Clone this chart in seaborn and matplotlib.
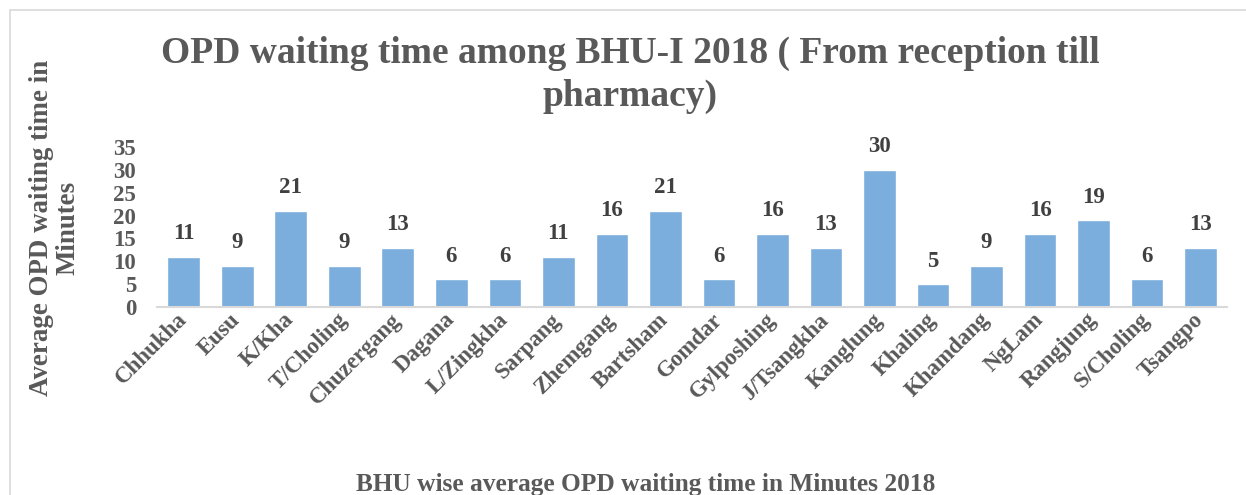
import pandas as pd
import seaborn as sns
import matplotlib.pyplot as plt
from matplotlib.patches import Rectangle

bhus = ["Chhukha", "Eusu", "K/Kha", "T/Choling", "Chuzergang", "Dagana", "L/Zingkha",
        "Sarpang", "Zhemgang", "Bartsham", "Gomdar", "Gylposhing", "J/Tsangkha",
        "Kanglung", "Khaling", "Khamdang", "NgLam", "Rangjung", "S/Choling", "Tsangpo"]
wait_minutes = [11, 9, 21, 9, 13, 6, 6, 11, 16, 21, 6, 16, 13, 30, 5, 9, 16, 19, 6, 13]
y_ticks = [0, 5, 10, 15, 20, 25, 30, 35]

title = "OPD waiting time among BHU-I 2018 ( From reception till\npharmacy)"
y_label = "Average OPD waiting time in\nMinutes"
x_label = "BHU wise average OPD waiting time in Minutes 2018"

sns.set_theme(style="white")
plt.rcParams['font.family'] = ['Liberation Serif', 'DejaVu Serif']
plt.rcParams['font.weight'] = 'bold'

text_grey = '#595959'
bar_blue = '#7BAEDD'

data = pd.DataFrame({"bhu": bhus, "minutes": wait_minutes})

fig = plt.figure(figsize=(12.46, 4.95), dpi=100)
ax = fig.add_axes([0.126, 0.380, 0.859, 0.323])

sns.barplot(data=data, x="bhu", y="minutes", color=bar_blue, width=0.61,
            saturation=1, ax=ax)

ax.set_ylim(0, 35)
ax.set_xlim(-0.5, len(bhus) - 0.5)
ax.set_yticks(y_ticks)
ax.tick_params(axis='y', length=0, pad=15, labelsize=16.5, labelcolor=text_grey)
ax.tick_params(axis='x', length=0, pad=7, labelsize=16.5, labelcolor=text_grey)
for lbl in ax.get_yticklabels():
    lbl.set_fontweight('bold')
ax.set_xticks(range(len(bhus)))
ax.set_xticklabels(bhus, rotation=45, ha='right', va='center',
                   rotation_mode='anchor', fontweight='bold')
ax.set_xlabel("")
ax.set_ylabel("")

for side in ['top', 'right', 'left']:
    ax.spines[side].set_visible(False)
ax.spines['bottom'].set_color('#d9d9d9')
ax.spines['bottom'].set_linewidth(1.5)
ax.grid(False)

ax.bar_label(ax.containers[0], labels=[str(v) for v in wait_minutes], padding=9,
             fontsize=16.5, fontweight='bold', color='#404040')

fig.text(0.506, 0.849, title, ha='center', va='center', fontsize=27,
         fontweight='bold', color=text_grey, linespacing=1.3)
fig.text(0.044, 0.539, y_label, ha='center', va='center', rotation=90,
         fontsize=19.4, fontweight='bold', color=text_grey, linespacing=1.1)
fig.text(0.518, 0.022, x_label, ha='center', va='center', fontsize=18.3,
         fontweight='bold', color=text_grey)

# chart area border, as in the spreadsheet export
fig.patches.append(Rectangle((10 / 1246, -0.1), 1.2, (495 - 10) / 495 + 0.1,
                             transform=fig.transFigure, fill=False,
                             edgecolor='#d9d9d9', linewidth=1.2))

plt.savefig('out.png', dpi=100)
